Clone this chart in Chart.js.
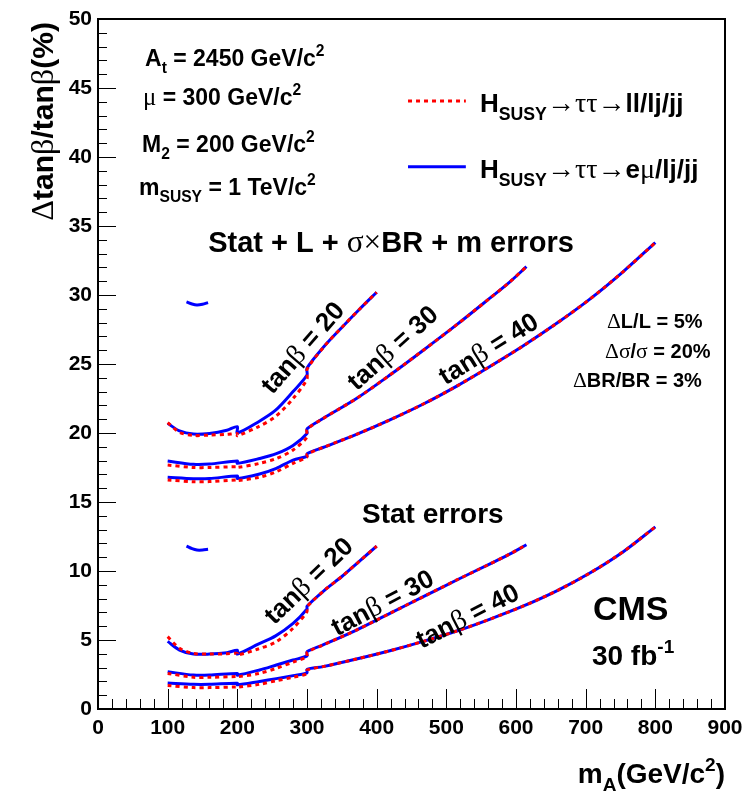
<!DOCTYPE html>
<html>
<head>
<meta charset="utf-8">
<script src="https://cdn.jsdelivr.net/npm/chart.js@4.4.0/dist/chart.umd.min.js"></script>
<style>
  body { margin: 0; background: #fff; }
  canvas { display: block; }
</style>
</head>
<body>
<canvas id="myChart" width="754" height="794"></canvas>
<script>
// mass points (GeV/c^2) for each tan(beta) curve; repeated x = step in the curve
const m20 = [100, 117, 137, 160, 185, 200, 200, 230, 255, 280, 300, 300, 325, 350, 375, 400];
const m30 = [100, 137, 160, 200, 200, 232, 256, 280, 300, 300, 323, 371, 419, 467, 515, 562, 590, 615];
const m40 = [100, 137, 160, 200, 200, 232, 256, 280, 300, 300, 323, 371, 419, 467, 515, 562, 610, 660, 706, 754, 800];

// Stat + L + sigma x BR + m errors
const sys20Emu = [20.7, 20.15, 19.92, 19.97, 20.2, 20.46, 20.0, 20.8, 21.65, 23.0, 24.2, 24.7, 26.3, 27.65, 28.95, 30.2];
const sys20Had = [20.75, 20.05, 19.82, 19.85, 19.9, 19.95, 19.8, 20.45, 21.2, 22.5, 23.9, 24.6, 26.3, 27.65, 28.95, 30.2];
const sys30Emu = [17.97, 17.73, 17.75, 17.97, 17.8, 18.15, 18.5, 19.1, 19.97, 20.3, 21.05, 22.5, 24.2, 26.0, 27.85, 29.75, 30.9, 32.05];
const sys30Had = [17.68, 17.5, 17.5, 17.56, 17.5, 17.8, 18.15, 18.77, 19.7, 20.25, 21.05, 22.5, 24.2, 26.0, 27.85, 29.75, 30.9, 32.05];
const sys40Emu = [16.8, 16.69, 16.7, 16.88, 16.7, 17.03, 17.44, 18.04, 18.3, 18.5, 18.95, 19.9, 20.95, 22.1, 23.4, 24.8, 26.3, 28.0, 29.7, 31.7, 33.8];
const sys40Had = [16.6, 16.47, 16.48, 16.6, 16.55, 16.8, 17.2, 17.8, 18.26, 18.45, 18.95, 19.9, 20.95, 22.1, 23.4, 24.8, 26.3, 28.0, 29.7, 31.7, 33.8];

// Stat errors only
const stat20Emu = [4.9, 4.27, 3.98, 3.98, 4.08, 4.25, 3.98, 4.7, 5.3, 6.2, 7.25, 7.45, 8.6, 9.6, 10.7, 11.8];
const stat20Had = [5.24, 4.4, 4.03, 3.98, 4.0, 4.03, 3.9, 4.35, 4.85, 5.85, 7.05, 7.4, 8.6, 9.6, 10.7, 11.8];
const stat30Emu = [2.7, 2.46, 2.46, 2.58, 2.45, 2.83, 3.19, 3.55, 3.85, 4.15, 4.64, 5.72, 6.93, 8.14, 9.35, 10.5, 11.2, 11.9];
const stat30Had = [2.58, 2.3, 2.3, 2.35, 2.33, 2.58, 2.95, 3.4, 3.8, 4.1, 4.64, 5.72, 6.93, 8.14, 9.35, 10.5, 11.2, 11.9];
const stat40Emu = [1.88, 1.79, 1.79, 1.86, 1.75, 2.0, 2.2, 2.42, 2.62, 2.87, 3.07, 3.62, 4.22, 4.9, 5.65, 6.5, 7.45, 8.6, 9.85, 11.4, 13.2];
const stat40Had = [1.7, 1.55, 1.55, 1.6, 1.58, 1.79, 2.05, 2.3, 2.55, 2.82, 3.07, 3.62, 4.22, 4.9, 5.65, 6.5, 7.45, 8.6, 9.85, 11.4, 13.2];

// small isolated blue arcs (e-mu channel only)
const arcMass = [127, 135, 142, 150, 158];
const sysArcEmu = [29.5, 29.35, 29.28, 29.33, 29.45];
const statArcEmu = [11.81, 11.62, 11.52, 11.52, 11.57];

const xTicks = [0, 900, 100];
const yTicks = [0, 50, 5];

const legendLabels = ['H_{SUSY}→ττ→ll/lj/jj', 'H_{SUSY}→ττ→eμ/lj/jj'];

// text drawn on the plot, positions in data units
const notes = [
    { text: 'A_{t} = 2450 GeV/c^{2}', x: 67.5, y: 46.6, size: 23 },
    { text: 'μ = 300 GeV/c^{2}', x: 64.6, y: 43.77, size: 23 },
    { text: 'M_{2} = 200 GeV/c^{2}', x: 63.2, y: 40.36, size: 23 },
    { text: 'm_{SUSY} = 1 TeV/c^{2}', x: 58.9, y: 37.25, size: 23 },
    { text: 'Stat + L + σ×BR + m errors', x: 420.6, y: 33.1, size: 29, align: 'center' },
    { text: 'ΔL/L = 5%', x: 730.6, y: 27.6, size: 20 },
    { text: 'Δσ/σ = 20%', x: 727.8, y: 25.43, size: 20 },
    { text: 'ΔBR/BR = 3%', x: 681.8, y: 23.33, size: 20 },
    { text: 'Stat errors', x: 379, y: 13.48, size: 28 },
    { text: 'CMS', x: 710.5, y: 6.45, size: 34 },
    { text: '30 fb^{-1}', x: 709, y: 3.19, size: 28 },
    { text: 'tanβ = 20', x: 292.8, y: 26.23, size: 26, align: 'center', rot: -49, middle: true },
    { text: 'tanβ = 30', x: 422, y: 26.23, size: 26, align: 'center', rot: -42, middle: true },
    { text: 'tanβ = 40', x: 559.8, y: 26.16, size: 26, align: 'center', rot: -32, middle: true },
    { text: 'tanβ = 20', x: 301.4, y: 9.35, size: 26, align: 'center', rot: -44, middle: true },
    { text: 'tanβ = 30', x: 407.7, y: 7.75, size: 26, align: 'center', rot: -28, middle: true },
    { text: 'tanβ = 40', x: 529.7, y: 6.8, size: 26, align: 'center', rot: -27, middle: true }
];

const SANS = '"Liberation Sans", Arial, sans-serif';
const SERIF = '"Liberation Serif", "Times New Roman", serif';
const GREEK = 'ΔβμστΔ×→';
const RED = '#ff0000';
const BLUE = '#0000ff';

function parseRich(str) {
    const out = [];
    let i = 0;
    while (i < str.length) {
        let mode = null, text;
        if ((str[i] === '_' || str[i] === '^') && str[i + 1] === '{') {
            const end = str.indexOf('}', i);
            mode = str[i] === '_' ? 'sub' : 'sup';
            text = str.slice(i + 2, end);
            i = end + 1;
        } else {
            let j = i;
            while (j < str.length && !((str[j] === '_' || str[j] === '^') && str[j + 1] === '{')) j++;
            text = str.slice(i, j);
            i = j;
        }
        for (const ch of text) {
            const g = GREEK.includes(ch);
            const last = out[out.length - 1];
            if (last && last.mode === mode && last.g === g) last.t += ch;
            else out.push({ t: ch, mode: mode, g: g });
        }
    }
    return out;
}

function segFont(seg, size) {
    const s = seg.mode ? size * 0.68 : size;
    return seg.g ? (s * 1.08) + 'px ' + SERIF : 'bold ' + s + 'px ' + SANS;
}

function drawRich(ctx, str, x, y, size, opt) {
    opt = opt || {};
    const segs = parseRich(str);
    ctx.save();
    ctx.translate(x, y);
    if (opt.rot) ctx.rotate(opt.rot * Math.PI / 180);
    let w = 0;
    segs.forEach(s => {
        ctx.font = segFont(s, size);
        s.w = ctx.measureText(s.t).width;
        w += s.w;
    });
    let cx = opt.align === 'center' ? -w / 2 : opt.align === 'right' ? -w : 0;
    const dy = opt.middle ? size * 0.36 : 0;
    ctx.textAlign = 'left';
    ctx.textBaseline = 'alphabetic';
    ctx.fillStyle = '#000';
    segs.forEach(s => {
        ctx.font = segFont(s, size);
        const off = s.mode === 'sub' ? size * 0.3 : s.mode === 'sup' ? -size * 0.42 : 0;
        ctx.fillText(s.t, cx, dy + off);
        cx += s.w;
    });
    ctx.restore();
}

function curve(xs, ys, color, dotted) {
    return {
        data: xs.map((x, i) => ({ x: x, y: ys[i] })),
        borderColor: color,
        borderWidth: 3,
        borderDash: dotted ? [4, 4] : [],
        pointRadius: 0,
        tension: 0.3,
        fill: false,
        order: dotted ? 1 : 2
    };
}

const datasets = [
    curve(m20, sys20Emu, BLUE, false), curve(m20, sys20Had, RED, true),
    curve(m30, sys30Emu, BLUE, false), curve(m30, sys30Had, RED, true),
    curve(m40, sys40Emu, BLUE, false), curve(m40, sys40Had, RED, true),
    curve(m20, stat20Emu, BLUE, false), curve(m20, stat20Had, RED, true),
    curve(m30, stat30Emu, BLUE, false), curve(m30, stat30Had, RED, true),
    curve(m40, stat40Emu, BLUE, false), curve(m40, stat40Had, RED, true),
    curve(arcMass, sysArcEmu, BLUE, false),
    curve(arcMass, statArcEmu, BLUE, false)
];

// ROOT-like frame, inward ticks, legend and labels
const rootStyle = {
    id: 'rootStyle',
    beforeDatasetsDraw(chart) {
        const ctx = chart.ctx;
        const xs = chart.scales.x, ys = chart.scales.y;
        const a = chart.chartArea;
        ctx.save();
        ctx.strokeStyle = '#000';
        ctx.lineWidth = 1;
        ctx.beginPath();
        for (let v = xTicks[0]; v <= xTicks[1]; v += xTicks[2] / 5) {
            const px = Math.round(xs.getPixelForValue(v)) + 0.5;
            const len = Math.round(v) % xTicks[2] === 0 ? 20 : 10;
            ctx.moveTo(px, a.bottom);
            ctx.lineTo(px, a.bottom - len);
        }
        for (let v = yTicks[0]; v <= yTicks[1]; v += yTicks[2] / 5) {
            const py = Math.round(ys.getPixelForValue(v)) + 0.5;
            const len = Math.round(v) % yTicks[2] === 0 ? 18 : 9;
            ctx.moveTo(a.left, py);
            ctx.lineTo(a.left + len, py);
        }
        ctx.stroke();
        ctx.restore();
    },
    afterDraw(chart) {
        const ctx = chart.ctx;
        const xs = chart.scales.x, ys = chart.scales.y;
        const a = chart.chartArea;
        ctx.save();
        ctx.strokeStyle = '#000';
        ctx.lineWidth = 2;
        ctx.strokeRect(a.left, a.top, a.right - a.left, a.bottom - a.top);
        ctx.restore();

        // legend, styled from the datasets
        const legendY = [44.06, 39.3];
        [chart.data.datasets[1], chart.data.datasets[0]].forEach((ds, i) => {
            const py = ys.getPixelForValue(legendY[i]);
            ctx.save();
            ctx.strokeStyle = ds.borderColor;
            ctx.lineWidth = ds.borderWidth;
            ctx.setLineDash(ds.borderDash);
            ctx.beginPath();
            ctx.moveTo(xs.getPixelForValue(445), py);
            ctx.lineTo(xs.getPixelForValue(528), py);
            ctx.stroke();
            ctx.restore();
            drawRich(ctx, legendLabels[i], xs.getPixelForValue(548.3), py + 2, 26, { middle: true });
        });

        notes.forEach(n => {
            drawRich(ctx, n.text, xs.getPixelForValue(n.x), ys.getPixelForValue(n.y), n.size,
                { align: n.align, rot: n.rot, middle: n.middle });
        });

        // axis titles
        drawRich(ctx, 'Δtanβ/tanβ(%)', a.left - 56, a.top + 3, 30, { align: 'right', rot: -90, middle: true });
        drawRich(ctx, 'm_{A}(GeV/c^{2})', a.right, a.bottom + 74, 28, { align: 'right' });
    }
};

const tickFont = { family: SANS, size: 21, weight: 'bold' };

new Chart(document.getElementById('myChart').getContext('2d'), {
    type: 'line',
    data: { datasets: datasets },
    options: {
        responsive: false,
        animation: false,
        layout: { padding: { top: 19, right: 29, left: 0, bottom: 0 } },
        plugins: { legend: { display: false }, tooltip: { enabled: false } },
        scales: {
            x: {
                type: 'linear',
                min: xTicks[0], max: xTicks[1],
                ticks: { stepSize: xTicks[2], color: '#000', font: tickFont, padding: 7, maxRotation: 0 },
                grid: { display: false, drawTicks: false },
                border: { display: false },
                afterFit: s => { s.height = 85; }
            },
            y: {
                min: yTicks[0], max: yTicks[1],
                ticks: { stepSize: yTicks[2], color: '#000', font: tickFont, padding: 6 },
                grid: { display: false, drawTicks: false },
                border: { display: false },
                afterFit: s => { s.width = 98; }
            }
        }
    },
    plugins: [rootStyle]
});
</script>
</body>
</html>
